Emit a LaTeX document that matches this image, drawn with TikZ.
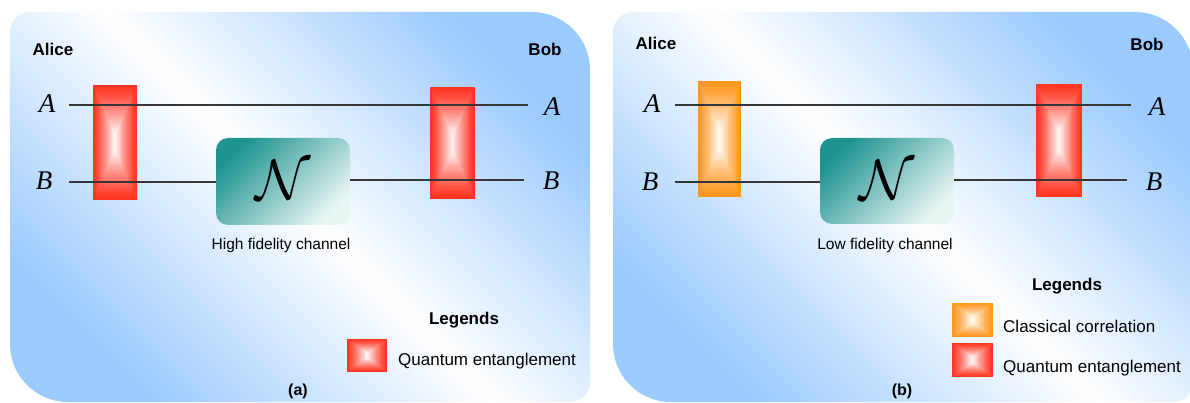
\documentclass[tikz,border=0pt]{standalone}
\usepackage{fontspec}
\setmainfont{Liberation Sans}
\newfontfamily\lserif{Liberation Serif}
\usetikzlibrary{calc}
\definecolor{bgblue}{RGB}{155,202,255}
\definecolor{qred}{RGB}{255,52,34}
\definecolor{qorange}{RGB}{255,150,30}
\definecolor{tealdark}{RGB}{30,148,145}
\definecolor{teallight}{RGB}{232,245,243}
\definecolor{wire}{RGB}{55,55,55}
\tikzset{
  panel/.style={top color=bgblue, bottom color=bgblue, middle color=white, shading angle=-45},
  chanbox/.style={rounded corners=12pt, top color=tealdark, bottom color=teallight, shading angle=45},
  wireline/.style={draw=wire, line width=1.3pt},
  who/.style={font=\bfseries\fontsize{17}{17}\selectfont, anchor=base, inner sep=0pt},
  reg/.style={font=\lserif\itshape\fontsize{27}{27}\selectfont, anchor=base, inner sep=0pt},
  chanlabel/.style={font=\fontsize{15.5}{15.5}\selectfont, anchor=base, inner sep=0pt},
  legtitle/.style={font=\bfseries\fontsize{17}{17}\selectfont, anchor=base, inner sep=0pt},
  legtext/.style={font=\fontsize{17}{17}\selectfont, anchor=base west, inner sep=0pt},
  caption/.style={font=\bfseries\fontsize{16}{16}\selectfont, anchor=base, inner sep=0pt},
  Nsym/.style={font=\fontsize{20}{20}\selectfont, inner sep=0pt, scale=2.75}
}
% nested-rectangle gradient box: name, x1, y1, x2, y2, colour
\newcommand\gradbox[6]{%
  \node[inner sep=0pt, outer sep=0pt, minimum width={#4-#2}, minimum height={#5-#3}, anchor=north west] (#1) at (#2,#3) {};
  \foreach \i in {0,...,24} {%
    \pgfmathsetmacro\pct{100*(1-(\i/24)^1.25)}%
    \fill[#6!\pct!white] ($(#1.north west)+({\i*(#4-#2)/48},{\i*(#5-#3)/48*0.85})$) rectangle ($(#1.south east)-({\i*(#4-#2)/48},{\i*(#5-#3)/48*0.85})$);
  }%
}
\begin{document}
\begin{tikzpicture}[x=1pt,y=-1pt]
\useasboundingbox (0,0) rectangle (1190,403);
% panels
\shade[panel] (10,200) [rounded corners=20pt] -- (10,12) -- (300,12) [rounded corners=58pt] -- (590,12) -- (590,200) [rounded corners=20pt] -- (590,402) -- (300,402) [rounded corners=58pt] -- (10,402) -- cycle;
\shade[panel] (613,200) [rounded corners=20pt] -- (613,12) -- (900,12) [rounded corners=58pt] -- (1193,12) -- (1193,200) [rounded corners=20pt] -- (1193,402) -- (900,402) [rounded corners=58pt] -- (613,402) -- cycle;

% ---------- panel (a) ----------
\node[who] (aliceA) at (53,56) {Alice};
\node[who] (bobA) at (545,56) {Bob};
\node[reg] (aAl) at (47,113) {A};
\node[reg] (aBl) at (44,190) {B};
\node[reg] (aAr) at (552,116) {A};
\node[reg] (aBr) at (551,190) {B};
\gradbox{aEntL}{93}{85}{137}{200}{qred}
\gradbox{aEntR}{430}{87}{475}{199}{qred}
\shade[chanbox] (216,138) rectangle (350,225);
\node[inner sep=0pt, minimum width=134pt, minimum height=87pt] (aChan) at (283,181.5) {};
\node[Nsym] (aN) at (283,180) {$\mathcal{N}$};
\coordinate (aA1) at (69,105);
\coordinate (aA2) at (528,105);
\coordinate (aB1) at (69,182);
\coordinate (aB2) at (524,180);
\draw[wireline] (aA1) -- (aA2);
\draw[wireline] (aB1) -- (aB1 -| aChan.west);
\draw[wireline] (aChan.east |- aB2) -- (aB2);
\node[chanlabel] (aChanTxt) at (281,249) {High fidelity channel};
\node[legtitle] (aLeg) at (464,324) {Legends};
\gradbox{aLegQ}{347}{339}{387}{372}{qred}
\node[legtext] (aLegQt) at (398,365) {Quantum entanglement};
\node[caption] (aCap) at (298,395) {(a)};

% ---------- panel (b) ----------
\node[who] (aliceB) at (656,50) {Alice};
\node[who] (bobB) at (1147,51) {Bob};
\node[reg] (bAl) at (652,113) {A};
\node[reg] (bBl) at (650,191) {B};
\node[reg] (bAr) at (1157,116) {A};
\node[reg] (bBr) at (1154,191) {B};
\gradbox{bCorL}{698}{81}{741}{197}{qorange}
\gradbox{bEntR}{1036}{84}{1082}{197}{qred}
\shade[chanbox] (820,138) rectangle (954,224);
\node[inner sep=0pt, minimum width=134pt, minimum height=86pt] (bChan) at (887,181) {};
\node[Nsym] (bN) at (887,180) {$\mathcal{N}$};
\coordinate (bA1) at (675,105);
\coordinate (bA2) at (1131,105);
\coordinate (bB1) at (675,182);
\coordinate (bB2) at (1127,180);
\draw[wireline] (bA1) -- (bA2);
\draw[wireline] (bB1) -- (bB1 -| bChan.west);
\draw[wireline] (bChan.east |- bB2) -- (bB2);
\node[chanlabel] (bChanTxt) at (885,249) {Low fidelity channel};
\node[legtitle] (bLeg) at (1067,290) {Legends};
\gradbox{bLegC}{952}{303}{993}{337}{qorange}
\node[legtext] (bLegCt) at (1003,332) {Classical correlation};
\gradbox{bLegQ}{952}{343}{993}{377}{qred}
\node[legtext] (bLegQt) at (1003,372) {Quantum entanglement};
\node[caption] (bCap) at (902,395) {(b)};
\end{tikzpicture}
\end{document}
